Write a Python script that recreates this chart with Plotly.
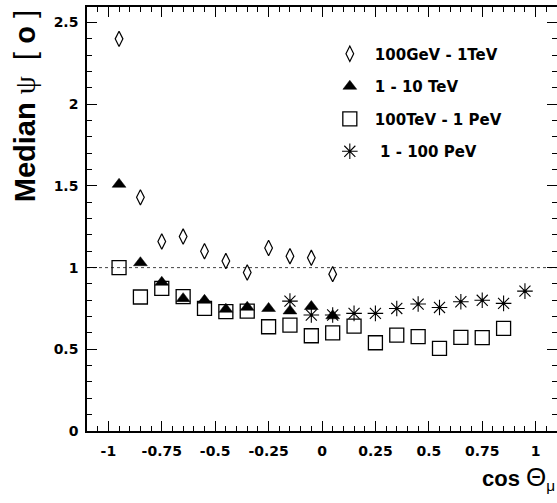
import plotly.graph_objects as go

# ---- data ----
x_low = [-0.95, -0.85, -0.75, -0.65, -0.55, -0.45, -0.35, -0.25, -0.15, -0.05, 0.05]
y_100gev_1tev = [2.40, 1.43, 1.16, 1.19, 1.10, 1.04, 0.97, 1.12, 1.07, 1.06, 0.96]
y_1_10tev = [1.51, 1.03, 0.91, 0.81, 0.80, 0.745, 0.757, 0.75, 0.735, 0.762, 0.705]

x_square = [-0.95, -0.85, -0.75, -0.65, -0.55, -0.45, -0.35, -0.25, -0.15, -0.05,
            0.05, 0.15, 0.25, 0.35, 0.45, 0.55, 0.65, 0.75, 0.85]
y_100tev_1pev = [1.00, 0.82, 0.873, 0.822, 0.75, 0.73, 0.734, 0.638, 0.648, 0.583,
                 0.601, 0.642, 0.54, 0.587, 0.577, 0.506, 0.573, 0.571, 0.628]

x_star = [-0.15, -0.05, 0.05, 0.15, 0.25, 0.35, 0.45, 0.55, 0.65, 0.75, 0.85, 0.95]
y_1_100pev = [0.795, 0.71, 0.71, 0.72, 0.72, 0.75, 0.777, 0.756, 0.791, 0.80, 0.781, 0.856]

names = ["100GeV - 1TeV", "1 - 10 TeV", "100TeV - 1 PeV", " 1 - 100 PeV"]

x_tickvals = [-1, -0.75, -0.5, -0.25, 0, 0.25, 0.5, 0.75, 1]
x_ticktext = ["-1", "-0.75", "-0.5", "-0.25", "0", "0.25", "0.5", "0.75", "1"]
y_tickvals = [0, 0.5, 1, 1.5, 2, 2.5]
y_ticktext = ["0", "0.5", "1", "1.5", "2", "2.5"]
reference_level = 1.0

FONT = "DejaVu Sans"
TITLE_FONT = "Liberation Sans"
BLACK = "black"

fig = go.Figure()

fig.add_trace(go.Scatter(
    x=x_low, y=y_100gev_1tev, mode="markers", name=names[0],
    legendgroup="a", legendrank=1,
    marker=dict(symbol="diamond-tall-open", size=11, color=BLACK,
                line=dict(width=1.2, color=BLACK))))
fig.add_trace(go.Scatter(
    x=x_square, y=y_100tev_1pev, mode="markers", name=names[2],
    legendgroup="c", legendrank=3,
    marker=dict(symbol="square-open", size=14, color=BLACK,
                line=dict(width=1.3, color=BLACK))))
fig.add_trace(go.Scatter(
    x=x_star, y=y_1_100pev, mode="markers", name=names[3],
    legendgroup="d", legendrank=4,
    marker=dict(symbol="asterisk-open", size=13, color=BLACK,
                line=dict(width=1.1, color=BLACK))))
fig.add_trace(go.Scatter(
    x=x_star, y=y_1_100pev, mode="markers", showlegend=False,
    legendgroup="d", hoverinfo="skip",
    marker=dict(symbol="circle", size=3, color=BLACK)))
fig.add_trace(go.Scatter(
    x=x_low, y=y_1_10tev, mode="markers", name=names[1],
    legendgroup="b", legendrank=2,
    marker=dict(symbol="triangle-up", size=12, color=BLACK,
                line=dict(width=0.5, color=BLACK))))

fig.add_shape(type="line", xref="paper", x0=0, x1=1, yref="y",
              y0=reference_level, y1=reference_level,
              line=dict(color="#444", width=1, dash="3px,3px"), layer="below")

axis_common = dict(
    showline=True, linecolor=BLACK, linewidth=1.5, mirror="allticks",
    ticks="inside", ticklen=10, tickwidth=1, tickcolor=BLACK,
    showgrid=False, zeroline=False,
    tickfont=dict(family=FONT, size=14, color=BLACK, weight="bold"),
)

fig.update_xaxes(range=[-1.1, 1.1], tickmode="array", tickvals=x_tickvals,
                 ticktext=x_ticktext, ticklabelstandoff=6,
                 minor=dict(dtick=0.05, tick0=0, ticks="inside", ticklen=5,
                            tickcolor=BLACK, showgrid=False),
                 **axis_common)
fig.update_yaxes(range=[0, 2.595], tickmode="array", tickvals=y_tickvals,
                 ticktext=y_ticktext, ticklabelstandoff=4,
                 minor=dict(dtick=0.1, tick0=0, ticks="inside", ticklen=5,
                            tickcolor=BLACK, showgrid=False),
                 **axis_common)

fig.add_annotation(
    text="<b>Median</b> <span style='font-family:Liberation Serif'>ψ</span>  [ <b>o</b> ]",
    textangle=-90, xref="paper", yref="paper", x=-0.132, y=0.997,
    xanchor="center", yanchor="top", showarrow=False,
    font=dict(family=TITLE_FONT, size=29, color=BLACK))
fig.add_annotation(
    text="<b>cos</b> <span style='font-size:26px'>Θ</span><sub>μ</sub>",
    xref="paper", yref="paper", x=1.0, y=-0.111,
    xanchor="right", yanchor="middle", showarrow=False,
    font=dict(family=TITLE_FONT, size=22, color=BLACK))

fig.update_layout(
    width=557, height=503,
    margin=dict(l=87, r=0, t=7, b=72, autoexpand=False),
    paper_bgcolor="white", plot_bgcolor="white",
    showlegend=True,
    legend=dict(x=0.506, y=0.928, xanchor="left", yanchor="top",
                bgcolor="rgba(0,0,0,0)", borderwidth=0,
                font=dict(family=FONT, size=15, color=BLACK, weight="bold"),
                tracegroupgap=10, itemwidth=40),
)

fig.write_html("out.html", config={"displayModeBar": False},
               post_script="document.body.style.margin='0';document.body.style.overflow='hidden';")
